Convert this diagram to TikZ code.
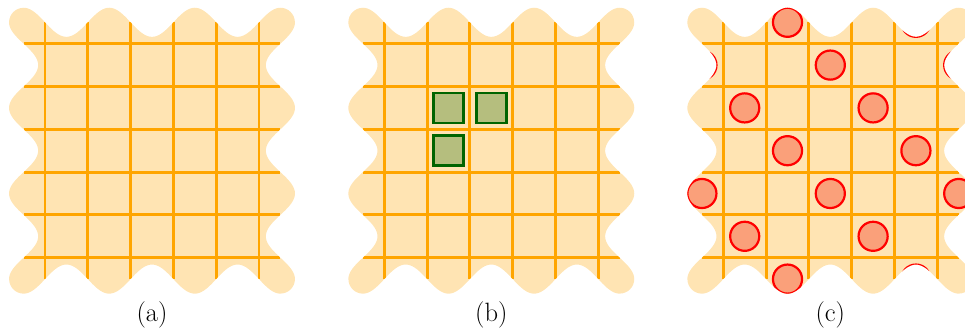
\documentclass[tikz,border=0pt]{standalone}
\usepackage{fontspec}
\definecolor{paper}{RGB}{255,228,179}
\definecolor{gridc}{RGB}{255,165,0}
\definecolor{boxfill}{RGB}{181,190,126}
\definecolor{boxdraw}{RGB}{0,100,0}
\definecolor{dotfill}{RGB}{250,160,122}
\definecolor{dotdraw}{RGB}{255,0,0}
\def\wA{0.34}
\def\wavy{(0,{6+\wA}) -- plot[domain=0:6,samples=121] (\x,{6+\wA*cos(180*\x)})
  arc[start angle=90,end angle=0,radius=\wA]
  -- plot[domain=0:6,samples=121] ({6+\wA*cos(180*\x)},{6-\x})
  arc[start angle=0,end angle=-90,radius=\wA]
  -- plot[domain=0:6,samples=121] ({6-\x},{-\wA*cos(180*\x)})
  arc[start angle=-90,end angle=-180,radius=\wA]
  -- plot[domain=0:6,samples=121] ({-\wA*cos(180*\x)},\x)
  arc[start angle=180,end angle=90,radius=\wA] -- cycle}
\begin{document}
\begin{tikzpicture}[x=1pt,y=1pt,
  paperfill/.style={fill=paper},
  gridline/.style={draw=gridc,line width=2.9pt},
  greenbox/.style={fill=boxfill,draw=boxdraw,line width=2.7pt},
  dot/.style={fill=dotfill,draw=dotdraw,line width=2.2pt},
  lab/.style={anchor=base,inner sep=0pt,font=\fontsize{26.5}{30}\selectfont},
  panel/.style={shift={(#1,54.9)},scale=42.8}]
\useasboundingbox (0,0) rectangle (965,334);
\clip (0,0) rectangle (965,334);
% (a)
\begin{scope}[panel=23.6]
  \fill[paperfill] \wavy;
  \begin{scope}
    \clip \wavy;
    \foreach \t in {0.5,1.5,2.5,3.5,4.5,5.5}{
      \draw[gridline] (\t,0) -- (\t,6);
      \draw[gridline] (0,\t) -- (6,\t);}
  \end{scope}
\end{scope}
% (b)
\begin{scope}[panel=362.9]
  \fill[paperfill] \wavy;
  \begin{scope}
    \clip \wavy;
    \foreach \t in {0.5,1.5,2.5,3.5,4.5,5.5}{
      \draw[gridline] (\t,0) -- (\t,6);
      \draw[gridline] (0,\t) -- (6,\t);}
    \foreach \cx/\cy in {2/4,3/4,2/3}
      \draw[greenbox] ({\cx-0.35},{\cy-0.35}) rectangle ({\cx+0.35},{\cy+0.35});
  \end{scope}
\end{scope}
% (c)
\begin{scope}[panel=701.9]
  \fill[paperfill] \wavy;
  \begin{scope}
    \clip \wavy;
    \foreach \t in {0.5,1.5,2.5,3.5,4.5,5.5}{
      \draw[gridline] (\t,0) -- (\t,6);
      \draw[gridline] (0,\t) -- (6,\t);}
    \foreach \cx/\cy in {2/6,5/6,0/5,3/5,6/5,1/4,4/4,2/3,5/3,0/2,3/2,6/2,1/1,4/1,2/0,5/0}
      \draw[dot] (\cx,\cy) circle[radius=0.34];
  \end{scope}
\end{scope}
\node[lab] (la) at (152,12.6) {(a)};
\node[lab] (lb) at (491.3,12.6) {(b)};
\node[lab] (lc) at (830.3,12.6) {(c)};
\end{tikzpicture}
\end{document}
